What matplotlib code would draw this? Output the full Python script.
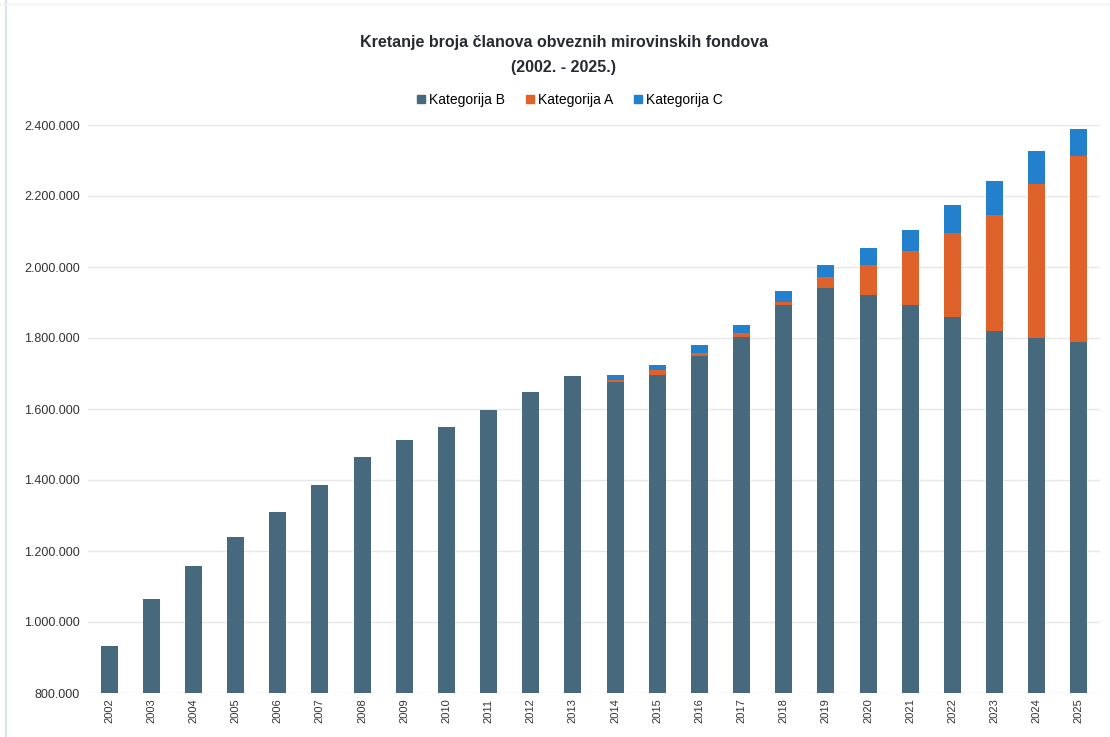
import matplotlib
matplotlib.use("Agg")
import matplotlib.pyplot as plt
from matplotlib.ticker import FuncFormatter
from matplotlib.lines import Line2D

years = [str(y) for y in range(2002, 2026)]
kat_b = [931000, 1066000, 1157000, 1240000, 1311000, 1386000, 1465000, 1512000,
         1550000, 1598000, 1648000, 1694000, 1675000, 1697000, 1748000, 1803000,
         1893000, 1942000, 1920000, 1893000, 1859000, 1820000, 1799000, 1788000]
kat_a = [0, 0, 0, 0, 0, 0, 0, 0,
         0, 0, 0, 0, 6000, 13000, 10000, 12000,
         9000, 29000, 85000, 151000, 237000, 326000, 435000, 524000]
kat_c = [0, 0, 0, 0, 0, 0, 0, 0,
         0, 0, 0, 0, 15000, 14000, 21000, 23000,
         29000, 35000, 49000, 61000, 80000, 97000, 93000, 78000]
y_ticks = [800000, 1000000, 1200000, 1400000, 1600000, 1800000, 2000000, 2200000, 2400000]

col_b = "#46697E"
col_a = "#E0622B"
col_c = "#2280CC"

plt.rcParams['font.family'] = ['Liberation Sans', 'DejaVu Sans']

fig = plt.figure(figsize=(11.10, 7.37), dpi=100)
ax = fig.add_axes([88/1110, 44/737, 1012/1110, (693-125)/737])

x = list(range(len(years)))
w = 0.4
ax.bar(x, [b - 800000 for b in kat_b], bottom=800000, width=w, color=col_b, label="Kategorija B", zorder=3)
bot_a = kat_b
ax.bar(x, kat_a, bottom=bot_a, width=w, color=col_a, label="Kategorija A", zorder=3)
bot_c = [b + a for b, a in zip(kat_b, kat_a)]
ax.bar(x, kat_c, bottom=bot_c, width=w, color=col_c, label="Kategorija C", zorder=3)

ax.set_xlim(-0.5, len(years) - 0.5)
ax.set_ylim(800000, 2400000)
ax.set_yticks(y_ticks)
ax.yaxis.set_major_formatter(FuncFormatter(lambda v, p: f"{int(v):,}".replace(",", ".")))
ax.set_xticks(x)
ax.set_xticklabels(years, rotation=90, fontsize=8, color="#333333")
ax.tick_params(axis='y', labelsize=9, colors="#333333", length=0, pad=6)
ax.tick_params(axis='x', length=0, pad=4)
for s in ax.spines.values():
    s.set_visible(False)
ax.grid(axis='y', color="#E8E8E8", linewidth=1, zorder=0)
ax.set_axisbelow(True)

fig.text(0.508, 0.942, "Kretanje broja članova obveznih mirovinskih fondova",
         ha='center', va='center', fontsize=11.5, fontweight='bold', color="#262a33")
fig.text(0.508, 0.909, "(2002. - 2025.)",
         ha='center', va='center', fontsize=11.5, fontweight='bold', color="#262a33")

handles = [Line2D([], [], marker='s', linestyle='', color=c, markersize=5.5)
           for c in (col_b, col_a, col_c)]
fig.legend(handles, ["Kategorija B", "Kategorija A", "Kategorija C"],
           loc='center', bbox_to_anchor=(0.512, 0.864), ncol=3, frameon=False,
           fontsize=10, handletextpad=0.05, columnspacing=1.3, handlelength=1.0)

fig.add_artist(Line2D([6/1110, 6/1110], [0, 1], color="#D6E6EE", linewidth=1.5))
fig.add_artist(Line2D([0, 1], [733/737, 733/737], color="#EEF3F6", linewidth=1))

fig.savefig("out.png", dpi=100)
